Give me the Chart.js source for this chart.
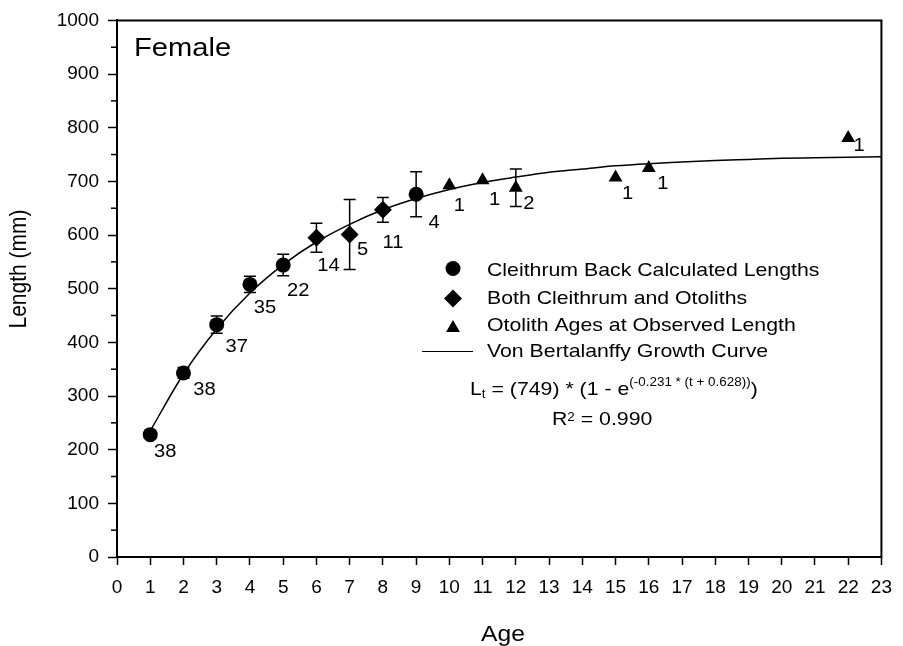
<!DOCTYPE html>
<html>
<head>
<meta charset="utf-8">
<script src="https://cdn.jsdelivr.net/npm/chart.js@4.4.1/dist/chart.umd.min.js"></script>
<style>
  html, body { margin: 0; padding: 0; background: #fff; }
  canvas { display: block; }
</style>
</head>
<body>
<canvas id="grafica" width="903" height="646"></canvas>
<script>
// valores (hembras)
var circleAges = [1, 2, 3, 4, 5, 9];
var circleLengths = [228, 343, 433, 508, 544, 676];
var circleErr = [0, 10, 16, 15, 20, 42];
var circleN = [38, 38, 37, 35, 22, 4];

var diamondAges = [6, 7, 8];
var diamondLengths = [595, 601, 647];
var diamondErr = [27, 65, 23];
var diamondN = [14, 5, 11];

var triangleAges = [10, 11, 12, 15, 16, 22];
var triangleLengths = [693, 702, 688, 707, 725, 781];
var triangleErr = [0, 0, 35, 0, 0, 0];
var triangleN = [1, 1, 2, 1, 1, 1];

var curveAges = [1, 2, 3, 4, 5, 6, 7, 8, 9, 10, 11, 12, 13, 14, 15, 16, 17, 18, 19, 20, 21, 22, 23];
var curveLengths = [235, 341, 425, 492, 545, 587, 620, 647, 668, 685, 698, 708, 717, 723, 729, 733, 736, 739, 741, 743, 744, 745, 746];

var seriesNames = ['Cleithrum Back Calculated Lengths', 'Both Cleithrum and Otoliths', 'Otolith Ages at Observed Length', 'Von Bertalanffy Growth Curve'];
var vbLinf = '749', vbK = '-0.231', vbT0 = '0.628', vbR2 = '0.990';
var panelTitle = 'Female';
var xTitle = 'Age';
var yTitle = 'Length (mm)';

var fuente = '"Liberation Sans", Arial, Helvetica, sans-serif';
var estirar = 1.12;

function puntos(xs, ys) {
    return xs.map(function (a, i) { return { x: a, y: ys[i] }; });
}

// texto un poco ensanchado como en la figura original
function texto(ctx, str, x, y, size, align, rot) {
    ctx.save();
    ctx.translate(x, y);
    ctx.scale(estirar, 1);
    if (rot) ctx.rotate(rot);
    ctx.font = size + 'px ' + fuente;
    ctx.textAlign = align || 'left';
    ctx.textBaseline = rot ? 'middle' : 'alphabetic';
    ctx.fillStyle = '#000';
    ctx.fillText(str, 0, 0);
    var w = ctx.measureText(str).width * estirar;
    ctx.restore();
    return w;
}

function marca(ctx, tipo, x, y, r) {
    ctx.beginPath();
    if (tipo == 'circle') {
        ctx.arc(x, y, r, 0, Math.PI * 2);
    } else if (tipo == 'rectRot') {
        ctx.moveTo(x - r, y); ctx.lineTo(x, y - r); ctx.lineTo(x + r, y); ctx.lineTo(x, y + r);
    } else {
        var h = r * Math.sqrt(3) / 2;
        ctx.moveTo(x, y - r); ctx.lineTo(x + h, y + r / 2); ctx.lineTo(x - h, y + r / 2);
    }
    ctx.closePath();
    ctx.fillStyle = '#000';
    ctx.fill();
}

var grupos = [
    { ages: circleAges, lengths: circleLengths, err: circleErr, n: circleN,
      off: [[15, 16], [21, 16], [20, 21], [15, 22], [15, 24], [18, 27]] },
    { ages: diamondAges, lengths: diamondLengths, err: diamondErr, n: diamondN,
      off: [[12, 27], [13, 14], [10, 32]] },
    { ages: triangleAges, lengths: triangleLengths, err: triangleErr, n: triangleN,
      off: [[10, 19], [12, 18], [13, 15], [12, 15], [14, 15], [11, 7]] }
];

var extras = {
    id: 'extras',
    beforeDatasetsDraw: function (chart) {
        var ctx = chart.ctx, sx = chart.scales.x, sy = chart.scales.y;
        ctx.save();
        ctx.strokeStyle = '#000';
        ctx.lineWidth = 1.5;
        grupos.forEach(function (g) {
            g.ages.forEach(function (a, i) {
                if (!g.err[i]) return;
                var px = sx.getPixelForValue(a);
                var y1 = sy.getPixelForValue(g.lengths[i] + g.err[i]);
                var y2 = sy.getPixelForValue(g.lengths[i] - g.err[i]);
                ctx.beginPath();
                ctx.moveTo(px, y1); ctx.lineTo(px, y2);
                ctx.moveTo(px - 6, y1); ctx.lineTo(px + 6, y1);
                ctx.moveTo(px - 6, y2); ctx.lineTo(px + 6, y2);
                ctx.stroke();
            });
        });
        ctx.restore();
    },
    afterDraw: function (chart) {
        var ctx = chart.ctx, sx = chart.scales.x, sy = chart.scales.y, area = chart.chartArea;
        ctx.save();
        // marco superior y derecho
        ctx.strokeStyle = '#000';
        ctx.lineWidth = 2;
        ctx.beginPath();
        ctx.moveTo(area.left - 1, area.top);
        ctx.lineTo(area.right, area.top);
        ctx.lineTo(area.right, area.bottom + 1);
        ctx.stroke();

        // ticks menores del eje y
        ctx.lineWidth = 1.5;
        for (var v = 50; v < 1000; v += 100) {
            var py = sy.getPixelForValue(v);
            ctx.beginPath();
            ctx.moveTo(area.left - 6, py); ctx.lineTo(area.left, py);
            ctx.stroke();
        }

        // numero de muestras junto a cada punto
        grupos.forEach(function (g) {
            g.ages.forEach(function (a, i) {
                var px = sx.getPixelForValue(a) + g.off[i][0];
                var py = sy.getPixelForValue(g.lengths[i]) + g.off[i][1];
                texto(ctx, String(g.n[i]), px, py + 6.5, 18, 'center');
            });
        });

        texto(ctx, panelTitle, 134, 56, 26);

        // leyenda
        marca(ctx, 'circle', 453, 268.5, 7.5);
        marca(ctx, 'rectRot', 453, 298.5, 9);
        marca(ctx, 'triangle', 453, 328, 8);
        ctx.strokeStyle = '#000';
        ctx.lineWidth = 1.2;
        ctx.beginPath();
        ctx.moveTo(422, 351.5); ctx.lineTo(473, 351.5);
        ctx.stroke();
        var bases = [275.5, 304, 331, 357];
        seriesNames.forEach(function (s, i) { texto(ctx, s, 487, bases[i], 19); });

        // ecuacion
        var fx = 470, fy = 395;
        fx += texto(ctx, 'L', fx, fy, 19);
        fx += texto(ctx, 't', fx, fy + 3, 12);
        fx += texto(ctx, ' = (' + vbLinf + ') * (1 - e', fx, fy, 19);
        fx += texto(ctx, '(' + vbK + ' * (t + ' + vbT0 + '))', fx, fy - 9, 12);
        texto(ctx, ')', fx, fy, 19);

        var rx = 552, ry = 425;
        rx += texto(ctx, 'R', rx, ry, 19);
        rx += texto(ctx, '2', rx, ry - 4.5, 12);
        texto(ctx, ' = ' + vbR2, rx, ry, 19);

        // titulos de ejes
        texto(ctx, xTitle, 503, 641, 22, 'center');
        texto(ctx, yTitle, 20, 269, 21, 'center', -Math.PI / 2);
        ctx.restore();
    }
};

new Chart(document.getElementById('grafica'), {
    type: 'scatter',
    data: {
        datasets: [
            { label: seriesNames[0], data: puntos(circleAges, circleLengths), pointStyle: 'circle',
              pointRadius: 7.5, backgroundColor: '#000', borderWidth: 0 },
            { label: seriesNames[1], data: puntos(diamondAges, diamondLengths), pointStyle: 'rectRot',
              pointRadius: 9, backgroundColor: '#000', borderWidth: 0 },
            { label: seriesNames[2], data: puntos(triangleAges, triangleLengths), pointStyle: 'triangle',
              pointRadius: 8, backgroundColor: '#000', borderWidth: 0 },
            { label: seriesNames[3], type: 'line', data: puntos(curveAges, curveLengths), showLine: true,
              borderColor: '#000', borderWidth: 1.5, pointRadius: 0, fill: false,
              cubicInterpolationMode: 'monotone' }
        ]
    },
    options: {
        responsive: false,
        animation: false,
        devicePixelRatio: 1,
        layout: { padding: { left: 0, top: 15, right: 15, bottom: 0 } },
        plugins: { legend: { display: false }, tooltip: { enabled: false } },
        scales: {
            x: {
                type: 'linear', min: 0, max: 23,
                ticks: { stepSize: 1, autoSkip: false, maxRotation: 0, color: '#000', padding: 11,
                         font: { family: fuente, size: 19 },
                         callback: function (v) { return String(v); } },
                grid: { drawOnChartArea: false, tickLength: 8, tickColor: '#000', tickWidth: 1.5 },
                border: { color: '#000', width: 2 },
                afterFit: function (s) { s.height = 89; }
            },
            y: {
                type: 'linear', min: 0, max: 1000,
                ticks: { stepSize: 100, color: '#000', padding: 9, font: { family: fuente, size: 19 },
                         callback: function (v) { return String(v); } },
                grid: { drawOnChartArea: false, tickLength: 9, tickColor: '#000', tickWidth: 1.5 },
                border: { color: '#000', width: 2 },
                afterFit: function (s) { s.width = 117; }
            }
        }
    },
    plugins: [extras]
});
</script>
</body>
</html>
